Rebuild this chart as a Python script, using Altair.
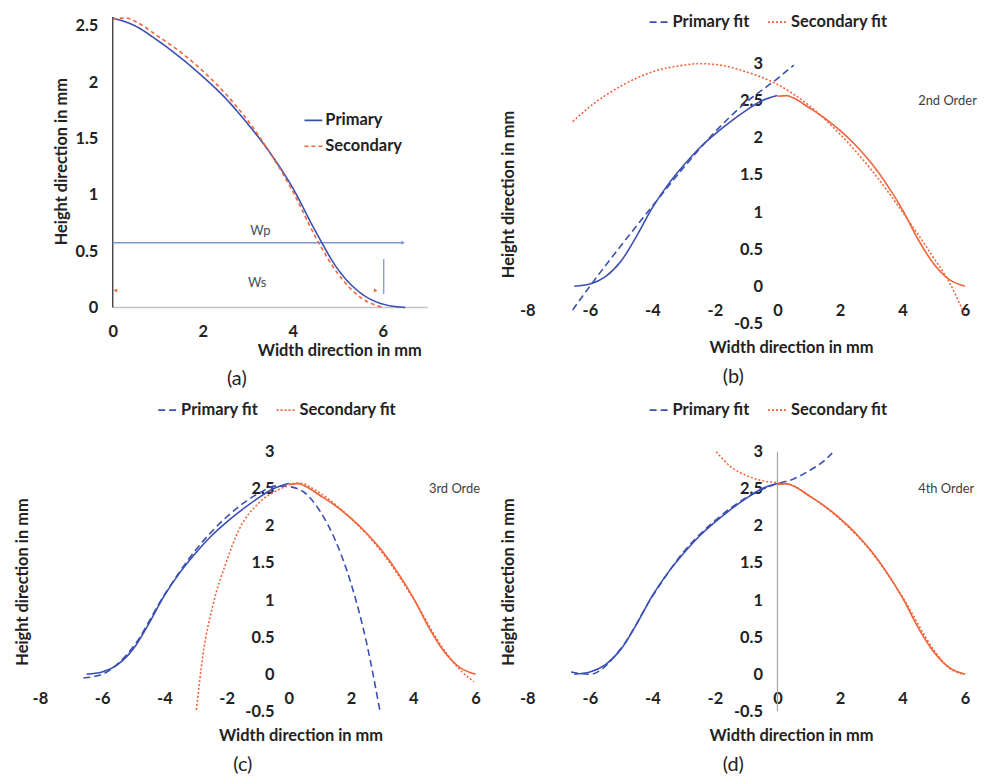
import altair as alt
import pandas as pd

FONT = "Lato"
BLUE = "#3a4fb3"
ORANGE = "#f0643a"
WP_BLUE = "#7d98d4"
INK = "#222222"
FS = 16.5

# ---------------- measured profiles (panel a): half-width x (mm), height (mm)
primary_x = [0, 0.5, 1, 1.5, 2, 2.5, 3, 3.5, 4, 4.5, 5, 5.5, 6, 6.5]
primary_y = [2.57, 2.5, 2.37, 2.22, 2.05, 1.86, 1.63, 1.37, 1.06, 0.68, 0.34, 0.13, 0.03, 0.0]
secondary_x = [0, 0.3, 0.5, 1, 1.5, 2, 2.5, 3, 3.5, 4, 4.5, 5, 5.5, 6]
secondary_y = [2.56, 2.57, 2.54, 2.41, 2.27, 2.1, 1.9, 1.66, 1.37, 1.03, 0.63, 0.3, 0.09, 0.0]

# ---------------- polynomial fits (b), (c), (d)
b_pfit_x = [-6.55, -6, -5, -4, -3, -2, -1, 0, 0.52]
b_pfit_y = [-0.32, 0.0, 0.55, 1.08, 1.6, 2.08, 2.48, 2.8, 2.98]
b_sfit_x = [-6.55, -6, -5, -4, -3, -2.5, -2, -1, 0, 1, 2, 3, 4, 5, 5.5, 6]
b_sfit_y = [2.22, 2.42, 2.7, 2.89, 2.98, 3.0, 2.99, 2.89, 2.72, 2.44, 2.05, 1.57, 1.0, 0.38, 0.05, -0.4]

c_pfit_x = [-6.6, -6, -5, -4, -3, -2, -1, -0.4, 0, 0.5, 1, 1.5, 2, 2.5, 2.92]
c_pfit_y = [-0.05, 0.0, 0.37, 1.07, 1.67, 2.12, 2.43, 2.54, 2.53, 2.45, 2.2, 1.8, 1.22, 0.42, -0.48]
c_sfit_x = [-2.97, -2.76, -2.44, -2.02, -1.6, -0.96, -0.32, 0.32, 1, 2, 3, 4, 5, 5.5, 5.94]
c_sfit_y = [-0.48, 0.26, 0.93, 1.5, 1.95, 2.31, 2.49, 2.58, 2.44, 2.1, 1.64, 1.02, 0.32, 0.06, -0.1]

d_pfit_x = [-6.6, -6, -5, -4, -3, -2, -1, 0, 0.5, 1, 1.5, 1.75]
d_pfit_y = [0.03, 0.0, 0.35, 1.05, 1.65, 2.07, 2.38, 2.57, 2.63, 2.74, 2.88, 2.98]
d_sfit_x = [-1.96, -1.5, -1, -0.5, 0, 0.5, 1, 2, 3, 4, 5, 5.5, 6]
d_sfit_y = [3.0, 2.8, 2.68, 2.61, 2.58, 2.54, 2.41, 2.09, 1.65, 1.04, 0.33, 0.08, 0.0]

# tick labels
a_xticks = [0, 2, 4, 6]
a_yticks = [0, 0.5, 1, 1.5, 2, 2.5]
full_xticks = [-8, -6, -4, -2, 0, 2, 4, 6]
full_yticks = [-0.5, 0, 0.5, 1, 1.5, 2, 2.5, 3]

LABEL = "'' + datum.value"


def xenc(domain, values, offset, title_x, title_y):
    return alt.X("x:Q", scale=alt.Scale(domain=domain, nice=False, zero=False),
                 axis=alt.Axis(values=values, labelExpr=LABEL, offset=offset, domain=False,
                               ticks=False, grid=False, labelPadding=16.5, labelFlush=False,
                               labelOverlap=False, title="Width direction in mm",
                               titleX=title_x, titleY=title_y, titleAlign="center",
                               titleBaseline="middle"))


def yenc(domain, values, offset, title_x, title_y):
    return alt.Y("y:Q", scale=alt.Scale(domain=domain, nice=False, zero=False),
                 axis=alt.Axis(values=values, labelExpr=LABEL, offset=offset, domain=False,
                               ticks=False, grid=False, labelPadding=15, labelFlush=False,
                               labelOverlap=False, title="Height direction in mm",
                               titleX=title_x, titleY=title_y, titleAlign="center",
                               titleBaseline="middle"))


def series_df(xs, ys, name, mirror=False):
    return pd.DataFrame({"x": [(-v if mirror else v) for v in xs], "y": ys, "series": name})


def legend(x, y, direction):
    return alt.Legend(title=None, orient="none", legendX=x, legendY=y, direction=direction,
                      symbolType="stroke", symbolSize=400 if direction == "horizontal" else 324,
                      symbolStrokeWidth=1.6, labelOffset=2, columnPadding=14, rowPadding=7,
                      padding=0)


def panel_title(text, dx, offset):
    return alt.TitleParams(text=text, orient="bottom", anchor="middle", dx=dx, offset=offset,
                           font=FONT, fontSize=20, fontWeight="normal", color=INK)


# ---------------- panel (a)
ax = xenc([-1.62, 7], a_xticks, 0, 301, 43)
ay = yenc([0, 2.58], a_yticks, -73.3, -51, 145)

a_data = pd.concat([series_df(primary_x, primary_y, "Primary"),
                    series_df(secondary_x, secondary_y, "Secondary")])
a_lines = alt.Chart(a_data).mark_line(strokeWidth=1.6, interpolate="monotone").encode(
    x=ax, y=ay,
    color=alt.Color("series:N", scale=alt.Scale(domain=["Primary", "Secondary"], range=[BLUE, ORANGE]),
                    legend=legend(265, 94, "vertical")),
    strokeDash=alt.StrokeDash("series:N", scale=alt.Scale(domain=["Primary", "Secondary"],
                                                          range=[[1, 0], [4, 3]])),
)
a_xaxis = alt.Chart(pd.DataFrame({"x": [0], "x2": [7], "y": [0]})).mark_rule(
    color="#c4c4c4", strokeWidth=1.5).encode(x=ax, x2="x2:Q", y=ay)
a_yaxis = alt.Chart(pd.DataFrame({"x": [0], "y": [0], "y2": [2.58]})).mark_rule(
    color="#333333", strokeWidth=1.3).encode(x=ax, y=ay, y2="y2:Q")
wp_line = alt.Chart(pd.DataFrame({"x": [0], "x2": [6.45], "y": [0.575]})).mark_rule(
    color=WP_BLUE, strokeWidth=1.5).encode(x=ax, x2="x2:Q", y=ay)
wp_heads = alt.Chart(pd.DataFrame({"x": [6.45], "y": [0.575]})).mark_point(
    shape="triangle-right", size=18, filled=True, color=WP_BLUE, opacity=1).encode(x=ax, y=ay)
ws_heads = alt.Chart(pd.DataFrame({"x": [0.06, 5.84], "y": [0.15, 0.15],
                                   "s": ["triangle-left", "triangle-right"]})).mark_point(
    size=16, filled=True, color=ORANGE, opacity=1).encode(
    x=ax, y=ay, shape=alt.Shape("s:N", scale=None))
ws_tick = alt.Chart(pd.DataFrame({"x": [6.02], "y": [0.12], "y2": [0.43]})).mark_rule(
    color=WP_BLUE, strokeWidth=1.3).encode(x=ax, y=ay, y2="y2:Q")
a_text = alt.Chart(pd.DataFrame({"x": [3.28, 3.21], "y": [0.68, 0.22], "t": ["Wp", "Ws"]})).mark_text(
    font=FONT, fontSize=13, color="#4d4d4d", align="center", baseline="middle").encode(
    x=ax, y=ay, text="t:N")

panel_a = alt.layer(a_xaxis, a_yaxis, wp_line, wp_heads, ws_heads, ws_tick, a_text, a_lines).properties(
    width=390, height=292, title=panel_title("(a)", 3, 10))


# ---------------- panels (b), (c), (d)
def full_panel(width, ydom, height, pfx, pfy, sfx, sfy, order_text, leg_x, leg_y,
               ytitle_x, ytitle_y, xtitle_x, tag, tag_dx, zero_line=False):
    unit = width / 14.0
    X = xenc([-8, 6], full_xticks, -37.3, xtitle_x, 62)
    Y = yenc(ydom, full_yticks, -8 * unit, ytitle_x, ytitle_y)
    prim = alt.Chart(series_df(primary_x, primary_y, "Primary", mirror=True)).mark_line(
        color=BLUE, strokeWidth=1.6, interpolate="monotone").encode(x=X, y=Y)
    sec = alt.Chart(series_df(secondary_x, secondary_y, "Secondary")).mark_line(
        color=ORANGE, strokeWidth=1.6, interpolate="monotone").encode(x=X, y=Y)
    fits = pd.concat([series_df(pfx, pfy, "Primary fit"), series_df(sfx, sfy, "Secondary fit")])
    fit = alt.Chart(fits).mark_line(strokeWidth=1.6, interpolate="monotone").encode(
        x=X, y=Y, detail="series:N",
        color=alt.Color("series:N", scale=alt.Scale(domain=["Primary fit", "Secondary fit"],
                                                    range=[BLUE, ORANGE]),
                        legend=legend(leg_x, leg_y, "horizontal")),
        strokeDash=alt.StrokeDash("series:N", scale=alt.Scale(domain=["Primary fit", "Secondary fit"],
                                                              range=[[7, 4], [2, 2]])),
    )
    txt = alt.Chart(pd.DataFrame({"x": [4.5], "y": [2.5], "t": [order_text]})).mark_text(
        font=FONT, fontSize=13, color="#404040", align="left", baseline="middle").encode(
        x=X, y=Y, text="t:N")
    layers = []
    if zero_line:
        layers.append(alt.Chart(pd.DataFrame({"x": [0], "y": [-0.5], "y2": [3]})).mark_rule(
            color="#a6a6a6", strokeWidth=1.2).encode(x=X, y=Y, y2="y2:Q"))
    layers += [prim, sec, fit, txt]
    return alt.layer(*layers).properties(width=width, height=height,
                                         title=panel_title(tag, tag_dx, 11))


panel_b = full_panel(440, [-0.5, 3.63], 308, b_pfit_x, b_pfit_y, b_sfit_x, b_sfit_y, "2nd Order",
                     122, -6, -270, 178, 265, "(b)", -13)
panel_c = full_panel(438, [-0.5, 3], 261, c_pfit_x, c_pfit_y, c_sfit_x, c_sfit_y, "3rd Orde",
                     118, -53, -268, 130.5, 262, "(c)", -15)
panel_d = full_panel(440, [-0.5, 3], 261, d_pfit_x, d_pfit_y, d_sfit_x, d_sfit_y, "4th Order",
                     122, -53, -270, 130.5, 265, "(d)", -13, zero_line=True)

chart = alt.concat(
    panel_a, panel_b, panel_c, panel_d, columns=2, bounds="flush",
    spacing={"row": 129, "column": 52},
).resolve_scale(color="independent", strokeDash="independent").resolve_legend(
    color="independent", strokeDash="independent"
).properties(
    padding={"left": 6, "top": 1, "right": 0, "bottom": 0}
).configure(font=FONT, background="white").configure_view(stroke=None).configure_axis(
    labelFont=FONT, labelFontSize=FS, labelFontWeight="bold", labelColor=INK,
    titleFont=FONT, titleFontSize=FS, titleFontWeight="bold", titleColor=INK
).configure_legend(
    labelFont=FONT, labelFontSize=FS, labelFontWeight="bold", labelColor=INK
)

chart.save("out.html", embed_options={"renderer": "svg", "actions": False})
